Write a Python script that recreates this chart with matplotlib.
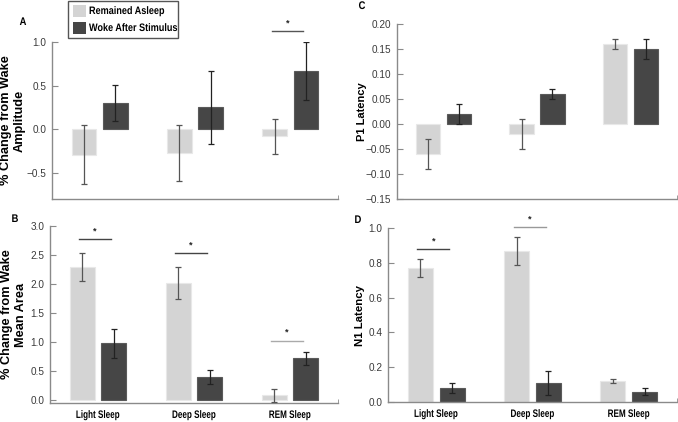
import numpy as np
import matplotlib
matplotlib.use('Agg')
import matplotlib.pyplot as plt
from matplotlib.ticker import FixedLocator
from matplotlib.patheffects import AbstractPathEffect
from matplotlib.transforms import Affine2D
from matplotlib.patches import Rectangle

plt.rcParams['font.family'] = ['Liberation Sans', 'DejaVu Sans']

stages = ['Light Sleep', 'Deep Sleep', 'REM Sleep']
series = ['Remained Asleep', 'Woke After Stimulus']

# panel A: amplitude
amp_asleep = [-0.29, -0.27, -0.08]
amp_asleep_err = [0.34, 0.32, 0.20]
amp_woke = [0.30, 0.25, 0.67]
amp_woke_err = [0.21, 0.42, 0.33]

# panel B: mean area
area_asleep = [2.29, 2.01, 0.07]
area_asleep_err = [0.24, 0.28, 0.12]
area_woke = [0.97, 0.39, 0.71]
area_woke_err = [0.25, 0.12, 0.11]

# panel C: P1 latency
p1_asleep = [-0.06, -0.02, 0.16]
p1_asleep_err = [0.03, 0.03, 0.01]
p1_woke = [0.02, 0.06, 0.15]
p1_woke_err = [0.02, 0.01, 0.02]

# panel D: N1 latency
n1_asleep = [0.77, 0.87, 0.12]
n1_asleep_err = [0.05, 0.08, 0.01]
n1_woke = [0.08, 0.11, 0.06]
n1_woke_err = [0.03, 0.07, 0.02]

# significance markers: (group index, line height, line colour)
sig_A = [(2, 1.125, '#555555')]
sig_B = [(0, 2.78, '#444444'), (1, 2.54, '#444444'), (2, 1.02, '#aaaaaa')]
sig_C = []
sig_D = [(0, 0.88, '#444444'), (1, 1.005, '#999999')]

light = '#d4d4d4'
dark = '#464646'
spine_col = '#8a8a8a'

W, H = 678, 422
fig = plt.figure(figsize=(W / 100, H / 100), dpi=100)


class Squeeze(AbstractPathEffect):
    # draws the text narrower, like the condensed font of the original
    def __init__(self, sx, anchor='center'):
        super().__init__()
        self.sx = sx
        self.anchor = anchor

    def draw_path(self, renderer, gc, tpath, affine, rgbFace=None):
        xmax = tpath.vertices[:, 0].max()
        cx = {'left': 0.0, 'right': xmax}.get(self.anchor, xmax / 2)
        t = Affine2D().translate(-cx, 0).scale(self.sx, 1).translate(cx, 0) + affine
        renderer.draw_path(gc, tpath, t, rgbFace)


def make_ax(l, t, r, b):
    return fig.add_axes([l / W, 1 - b / H, (r - l) / W, (b - t) / H])


def draw(ax, a, ae, w, we, ylim, yticks, fmt, sigs, ylabel, ylsize, letter, lx, ly, show_x):
    x = np.arange(len(stages))
    bw, off = 0.26, 0.165
    ax.bar(x - off, a, bw, color=light, edgecolor='#e8e8e8', linewidth=0.8, zorder=2)
    ax.bar(x + off, w, bw, color=dark, edgecolor='#5a5a5a', linewidth=0.8, zorder=2)
    ax.errorbar(x - off, a, yerr=ae, fmt='none', ecolor='#555555', elinewidth=0.9,
                capsize=2.5, capthick=0.9, zorder=3)
    ax.errorbar(x + off, w, yerr=we, fmt='none', ecolor='#222222', elinewidth=0.9,
                capsize=2.5, capthick=0.9, zorder=3)
    span = ylim[1] - ylim[0]
    for g, h, c in sigs:
        ax.plot([g - off - 0.03, g + off - 0.03], [h, h], color=c, lw=1.0,
                clip_on=False, zorder=3)
        ax.text(g - 0.03, h + span * 0.02, '*', ha='center', va='bottom', fontsize=6.5,
                fontweight='bold', color='#222222', clip_on=False)
    ax.set_xlim(-0.5, 2.5)
    ax.set_ylim(*ylim)
    ax.set_yticks(yticks)
    ax.set_yticklabels([fmt.format(v).replace('-', '\u2212') for v in yticks])
    ax.set_xticks(x)
    if show_x:
        ax.set_xticklabels(stages, fontsize=7.8, fontweight='bold')
        for t in ax.get_xticklabels():
            t.set_path_effects([Squeeze(0.75)])
    else:
        ax.set_xticklabels([])
    ax.xaxis.set_minor_locator(FixedLocator([2.5]))
    ax.tick_params(axis='x', which='major', length=0, pad=5)
    ax.tick_params(axis='x', which='minor', direction='in', length=3, color=spine_col)
    ax.tick_params(axis='y', direction='in', length=4, color=spine_col, labelsize=7.2,
                   labelcolor='#3a3a3a', pad=4.2)
    for s in ['top', 'right']:
        ax.spines[s].set_visible(False)
    for s in ['left', 'bottom']:
        ax.spines[s].set_color(spine_col)
        ax.spines[s].set_linewidth(1.0)
    ax.set_ylabel(ylabel, fontsize=ylsize, fontweight='bold', linespacing=1.2)
    lt = fig.text(lx / W, 1 - ly / H, letter, fontsize=8, fontweight='bold',
                  ha='center', va='center')
    lt.set_path_effects([Squeeze(0.85)])


axA = make_ax(52, 42, 338, 199)
draw(axA, amp_asleep, amp_asleep_err, amp_woke, amp_woke_err, (-0.8, 1.0),
     [-0.5, 0.0, 0.5, 1.0], '{:.1f}', sig_A, '% Change from Wake\nAmplitude', 9.2,
     'A', 23, 22, False)
axA.yaxis.set_label_coords(-0.092, 0.5)

axC = make_ax(397, 24, 677, 199)
draw(axC, p1_asleep, p1_asleep_err, p1_woke, p1_woke_err, (-0.15, 0.20),
     [-0.15, -0.10, -0.05, 0.0, 0.05, 0.10, 0.15, 0.20], '{:.2f}', sig_C, 'P1 Latency', 8,
     'C', 362, 6, False)
axC.yaxis.set_label_coords(-0.107, 0.5)

axB = make_ax(50, 226, 338, 403)
draw(axB, area_asleep, area_asleep_err, area_woke, area_woke_err, (-0.06, 3.0),
     [0.0, 0.5, 1.0, 1.5, 2.0, 2.5, 3.0], '{:.1f}', sig_B, '% Change from Wake\nMean Area', 9.2,
     'B', 15, 219, True)
axB.yaxis.set_label_coords(-0.08, 0.5)

axD = make_ax(388, 228, 677, 402)
draw(axD, n1_asleep, n1_asleep_err, n1_woke, n1_woke_err, (0.0, 1.0),
     [0.0, 0.2, 0.4, 0.6, 0.8, 1.0], '{:.1f}', sig_D, 'N1 Latency', 8.2,
     'D', 358, 220, True)
axD.yaxis.set_label_coords(-0.08, 0.5)

# legend box, drawn by hand so the frame fits the narrow text
def px(x, y):
    return x / W, 1 - y / H

fig.add_artist(Rectangle(px(68, 38), 110 / W, 37.5 / H, transform=fig.transFigure,
                         facecolor='white', edgecolor='#555555', linewidth=1.0))
for i, (lab, col) in enumerate(zip(series, [light, dark])):
    yc = 11 + 17 * i
    fig.add_artist(Rectangle(px(73, yc + 6), 13 / W, 12 / H, transform=fig.transFigure,
                             facecolor=col, edgecolor='none'))
    tx = fig.text(*px(89, yc), lab, fontsize=7.8, fontweight='bold', ha='left', va='center')
    tx.set_path_effects([Squeeze(0.84, 'left')])

fig.savefig('out.png', dpi=100)
